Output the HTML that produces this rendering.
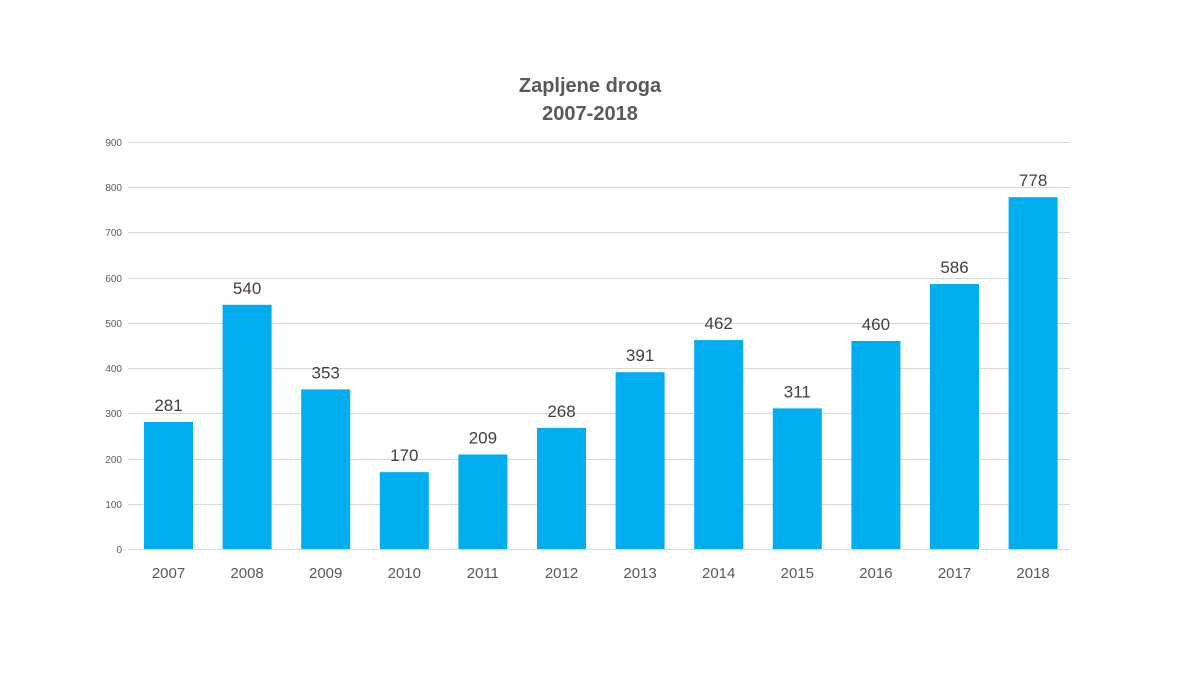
<!DOCTYPE html>
<html><head><meta charset="utf-8"><style>body{margin:0;background:#fff}svg{display:block}</style></head><body>
<svg width="1200" height="675" xmlns="http://www.w3.org/2000/svg" font-family="Liberation Sans, sans-serif">
<text x="590" y="92" text-anchor="middle" font-size="20" font-weight="bold" fill="#595959">Zapljene droga</text>
<text x="590" y="120" text-anchor="middle" font-size="20" font-weight="bold" fill="#595959">2007-2018</text>
<g stroke="#d9d9d9" stroke-width="1">
<line x1="128" x2="1070" y1="142.5" y2="142.5"/><line x1="128" x2="1070" y1="187.5" y2="187.5"/>
<line x1="128" x2="1070" y1="232.5" y2="232.5"/><line x1="128" x2="1070" y1="278.5" y2="278.5"/>
<line x1="128" x2="1070" y1="323.5" y2="323.5"/><line x1="128" x2="1070" y1="368.5" y2="368.5"/>
<line x1="128" x2="1070" y1="413.5" y2="413.5"/><line x1="128" x2="1070" y1="459.5" y2="459.5"/>
<line x1="128" x2="1070" y1="504.5" y2="504.5"/><line x1="128" x2="1070" y1="549.5" y2="549.5"/>
</g>
<g font-size="10" fill="#595959" text-anchor="end">
<text x="122" y="146">900</text><text x="122" y="191">800</text><text x="122" y="236">700</text>
<text x="122" y="282">600</text><text x="122" y="327">500</text><text x="122" y="372">400</text>
<text x="122" y="417">300</text><text x="122" y="463">200</text><text x="122" y="508">100</text><text x="122" y="553">0</text>
</g>
<g id="bars" fill="#00aeef"></g>
<g id="vals" font-size="17" fill="#404040" text-anchor="middle"></g>
<g id="cats" font-size="15" fill="#595959" text-anchor="middle"></g>
<script>
var d=[281,540,353,170,209,268,391,462,311,460,586,778],ns="http://www.w3.org/2000/svg";
d.forEach(function(v,i){var cx=168.5+i*78.6,h=v*0.4522,y=549-h;
var r=document.createElementNS(ns,"rect");r.setAttribute("x",cx-24.5);r.setAttribute("y",y);r.setAttribute("width",49);r.setAttribute("height",h);document.getElementById("bars").appendChild(r);
var t=document.createElementNS(ns,"text");t.setAttribute("x",cx);t.setAttribute("y",y-11);t.textContent=v;document.getElementById("vals").appendChild(t);
var c=document.createElementNS(ns,"text");c.setAttribute("x",cx);c.setAttribute("y",578);c.textContent=2007+i;document.getElementById("cats").appendChild(c);});
</script>
</svg>
</body></html>
